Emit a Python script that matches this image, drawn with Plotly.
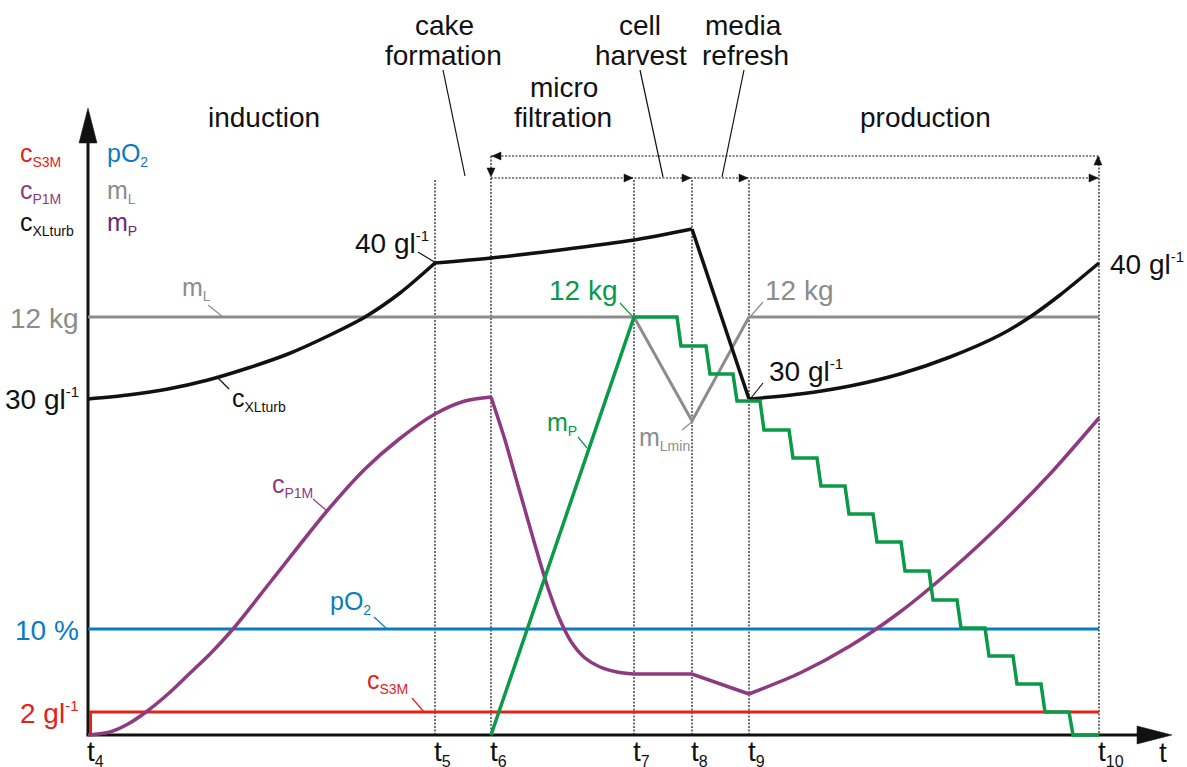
import plotly.graph_objects as go

W, H = 1187, 767
FONT = "Arial, 'Liberation Sans', sans-serif"

RED = "#e2231a"
BLUE = "#0b7bc1"
PURPLE = "#8e3a80"
DPURPLE = "#662d73"
GREEN = "#0a9a48"
GRAY = "#8c8c8c"
BLACK = "#111111"

# ---------------- data (time in a.u., values in chart units) ----------------
T_LABELS = ["4", "5", "6", "7", "8", "9", "10"]
T_POS = [0, 347, 403, 546, 604, 661, 1011]

PO2_T = [0, 1011]
PO2_V = [106, 106]

CS3M_T = [2.5, 2.5, 1011]
CS3M_V = [0, 23, 23]

ML_T = [0, 546, 604, 661, 1011]
ML_V = [418, 418, 314, 418, 418]

CX_T_IND = [0, 40, 80, 120, 160, 200, 240, 277, 312, 347]
CX_V_IND = [336, 340, 346, 355, 367, 381, 399, 418, 442, 472]
CX_T_MF = [347, 403, 472, 546, 604]
CX_V_MF = [472, 477, 485, 495, 506]
CX_T_HARV = [604, 661]
CX_V_HARV = [506, 336]
CX_T_PROD = [661, 712, 762, 812, 862, 912, 942, 972, 1011]
CX_V_PROD = [336, 341, 349, 361, 378, 400, 418, 440, 472]

CP_T_IND = [0, 22, 40, 58, 80, 100, 122, 145, 184, 239, 277, 310, 347, 377, 403]
CP_V_IND = [0, 3, 11, 23, 41, 60, 81, 106, 155, 224, 266, 295, 321, 334, 338]
CP_T_DEC = [403, 409, 417, 427, 437, 447, 460, 472, 484, 497, 512, 529, 546]
CP_V_DEC = [338, 320, 295, 260, 225, 190, 147, 115, 92, 77, 68, 63, 61]
CP_T_MID = [546, 604, 661]
CP_V_MID = [61, 61, 41]
CP_T_PROD = [661, 712, 762, 812, 862, 912, 962, 1011]
CP_V_PROD = [41, 62, 89, 123, 164, 210, 261, 317]

MP_RAMP_T = [403, 546]
MP_RAMP_V = [0, 418]
MP_STEP_START = [546, 593, 622, 649, 676, 705, 733, 761, 789, 817, 845, 873, 901, 929, 957, 985]
MP_STEP_END = [589, 618, 645, 672, 701, 729, 757, 785, 813, 841, 869, 897, 925, 953, 981, 1011]
MP_STEP_V = [418, 389, 361, 334, 305, 277, 249, 221, 193, 164, 135, 107, 79, 51, 23, 0]

# ---------------- figure ----------------
fig = go.Figure()


def add_line(t, v, color, width=3.5, shape="linear", smoothing=1.0):
    fig.add_trace(go.Scatter(x=t, y=v, mode="lines",
                             line=dict(color=color, width=width, shape=shape,
                                       smoothing=smoothing),
                             hoverinfo="skip", showlegend=False))


add_line(PO2_T, PO2_V, BLUE, 3)
add_line(CS3M_T, CS3M_V, RED, 3)
add_line(ML_T, ML_V, GRAY, 3)
add_line(CP_T_IND, CP_V_IND, PURPLE, 3.5, "spline", 0.8)
add_line(CP_T_DEC, CP_V_DEC, PURPLE, 3.5, "spline", 0.8)
add_line(CP_T_MID, CP_V_MID, PURPLE, 3.5)
add_line(CP_T_PROD, CP_V_PROD, PURPLE, 3.5, "spline", 0.8)
add_line(CX_T_IND, CX_V_IND, BLACK, 3.5, "spline", 0.8)
add_line(CX_T_MF, CX_V_MF, BLACK, 3.5, "spline", 0.8)
add_line(CX_T_HARV, CX_V_HARV, BLACK, 3.5)
add_line(CX_T_PROD, CX_V_PROD, BLACK, 3.5, "spline", 0.8)

mp_t = list(MP_RAMP_T[:1])
mp_v = list(MP_RAMP_V[:1])
for s, e, v in zip(MP_STEP_START, MP_STEP_END, MP_STEP_V):
    mp_t += [s, e]
    mp_v += [v, v]
add_line(mp_t, mp_v, GREEN, 3.5)

# ---------------- decorations (pixel layout -> paper) ----------------
def P(px, py):
    return px / W, 1 - py / H


shapes = []


def seg(p0, p1, color=BLACK, width=1.2, dash=None):
    x0, y0 = P(*p0)
    x1, y1 = P(*p1)
    ln = dict(color=color, width=width)
    if dash:
        ln["dash"] = dash
    shapes.append(dict(type="line", xref="paper", yref="paper",
                       x0=x0, y0=y0, x1=x1, y1=y1, line=ln, layer="below"))


def tri(pts, color=BLACK):
    path = "M " + " L ".join("%f,%f" % P(*p) for p in pts) + " Z"
    shapes.append(dict(type="path", xref="paper", yref="paper", path=path,
                       fillcolor=color, line=dict(color=color, width=0.5)))


X0, Y0 = 88, 735  # axis origin in pixels
DOT = "2px,1.5px"

# vertical dotted time markers
t_px = [X0 + t for t in T_POS]
tops = [None, 180, 178, 180, 180, 180, 157]
for x, top in zip(t_px[1:], tops[1:]):
    seg((x, top), (x, Y0), BLACK, 1.2, DOT)
# process loop arrows
seg((t_px[2], 156), (t_px[6], 156), BLACK, 1.2, DOT)
seg((t_px[2], 156), (t_px[2], 170), BLACK, 1.2, DOT)
seg((t_px[2], 178), (t_px[6], 178), BLACK, 1.2, DOT)
tri([(t_px[2] + 1, 156), (t_px[2] + 10, 152), (t_px[2] + 10, 160)])
tri([(t_px[2], 177), (t_px[2] - 4, 168), (t_px[2] + 4, 168)])
tri([(t_px[6] - 1, 156), (t_px[6] - 5, 165), (t_px[6] + 3, 165)])
for x in t_px[3:]:
    tri([(x - 1, 178), (x - 10, 174), (x - 10, 182)])

# axes
seg((X0, Y0), (X0, 138), BLACK, 3)
seg((X0 - 1.5, Y0), (1140, Y0), BLACK, 3)
tri([(X0, 108), (X0 - 9, 143), (X0 + 9, 143)])
tri([(1172, Y0), (1137, Y0 - 9), (1137, Y0 + 9)])

# leader lines
seg((208, 305), (223, 317), GRAY, 1.2)
seg((217, 377), (229, 389), BLACK, 1.2)
seg((418, 252), (436, 263), BLACK, 1.2)
seg((763, 383), (751, 398), BLACK, 1.2)
seg((763, 302), (750, 317), GRAY, 1.2)
seg((620, 303), (633, 317), GREEN, 1.2)
seg((682, 430), (693, 421), GRAY, 1.2)
seg((578, 437), (587, 448), GREEN, 1.2)
seg((313, 499), (327, 511), PURPLE, 1.2)
seg((374, 617), (386, 628), BLUE, 1.2)
seg((412, 698), (424, 712), RED, 1.2)
seg((443, 70), (465, 176), BLACK, 1.2)
seg((640, 70), (663, 177), BLACK, 1.2)
seg((744, 70), (722, 177), BLACK, 1.2)

# ---------------- texts ----------------
annotations = []


def sub(s, size):
    return "<sub><span style='font-size:%dpx'>%s</span></sub>" % (size, s)


def sup(s, size):
    return "<sup><span style='font-size:%dpx'>%s</span></sup>" % (size, s)


def txt(text, px, baseline, color=BLACK, size=28, anchor="left"):
    x, y = P(px, baseline - 0.33 * size)
    annotations.append(dict(text=text, x=x, y=y, xref="paper", yref="paper",
                            xanchor=anchor, yanchor="middle", showarrow=False,
                            font=dict(family=FONT, size=size, color=color)))


GL = "gl" + sup("-1", 15)

# phase titles
txt("induction", 264, 127, anchor="center")
txt("production", 925, 127, anchor="center")
txt("cake", 444, 35, anchor="center")
txt("formation", 443, 65, anchor="center")
txt("micro", 564, 97, anchor="center")
txt("filtration", 563, 127, anchor="center")
txt("cell", 640, 35, anchor="center")
txt("harvest", 641, 65, anchor="center")
txt("media", 743, 35, anchor="center")
txt("refresh", 745, 65, anchor="center")

# left legend
LS = 25
SS = 14
txt("c" + sub("S3M", SS), 18, 163, RED, LS)
txt("c" + sub("P1M", SS), 18, 200, PURPLE, LS)
txt("c" + sub("XLturb", SS), 18, 232, BLACK, LS)
txt("pO" + sub("2", SS), 105, 163, BLUE, LS)
txt("m" + sub("L", SS), 105, 200, GRAY, LS)
txt("m" + sub("P", SS), 105, 232, DPURPLE, LS)

# y level labels
txt("12 kg", 81, 328, GRAY, 28, "right")
txt("30 " + GL, 81, 408, BLACK, 28, "right")
txt("10 %", 81, 640, BLUE, 28, "right")
txt("2 " + GL, 81, 722, RED, 28, "right")

# curve labels
txt("m" + sub("L", SS), 180, 297, GRAY, LS)
txt("c" + sub("XLturb", SS), 230, 408, BLACK, LS)
txt("c" + sub("P1M", SS), 270, 494, PURPLE, LS)
txt("pO" + sub("2", SS), 328, 611, BLUE, LS)
txt("c" + sub("S3M", SS), 365, 690, RED, LS)
txt("m" + sub("P", SS), 545, 432, GREEN, LS)
txt("m" + sub("Lmin", SS), 637, 447, GRAY, LS)
txt("40 " + GL, 353, 252, BLACK, 28)
txt("40 " + GL, 1108, 273, BLACK, 28)
txt("30 " + GL, 767, 380, BLACK, 28)
txt("12 kg", 763, 300, GRAY, 28)
txt("12 kg", 620, 300, GREEN, 28, "right")

# time labels
for lab, x in zip(T_LABELS, t_px):
    txt("t" + sub(lab, 16), x - 3, 762, BLACK, 28)
txt("t", 1157, 762, BLACK, 28)

fig.update_layout(
    width=W, height=H, autosize=False,
    margin=dict(l=0, r=0, t=0, b=0),
    paper_bgcolor="white", plot_bgcolor="white",
    xaxis=dict(range=[-X0, W - X0], visible=False, fixedrange=True),
    yaxis=dict(range=[Y0 - H, Y0], visible=False, fixedrange=True),
    shapes=shapes, annotations=annotations,
    showlegend=False, hovermode=False,
)

fig.write_html(
    "out.html",
    config={"displayModeBar": False},
    post_script="document.body.style.margin='0';document.body.style.overflow='hidden';",
)
